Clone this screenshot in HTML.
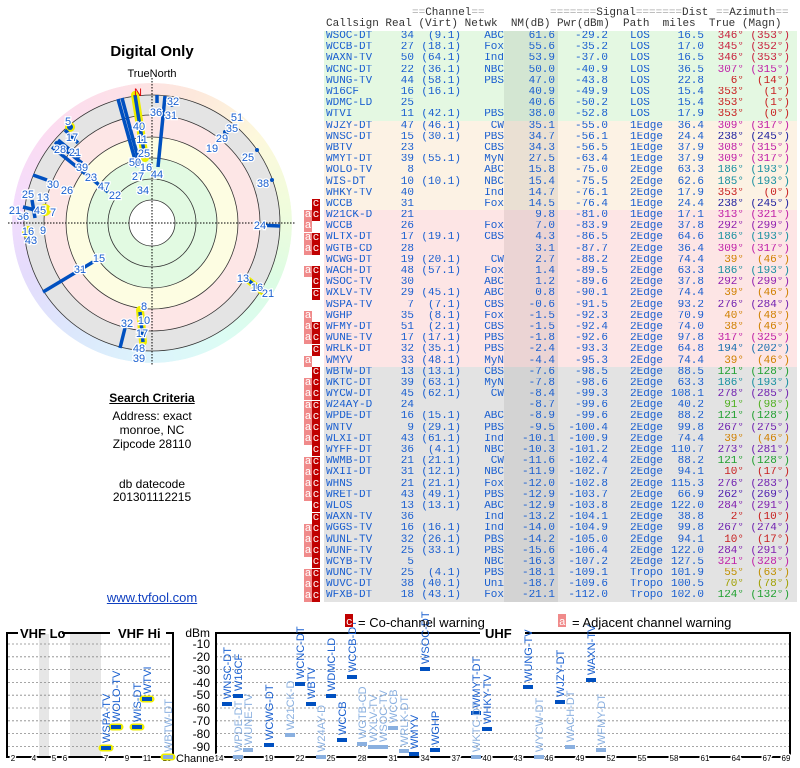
<!DOCTYPE html>
<html><head><meta charset="utf-8"><style>
body{margin:0;width:800px;height:768px;background:#fff;position:relative;overflow:hidden;font-family:"Liberation Sans",sans-serif}
.hd{position:absolute;font:11px "Liberation Mono",monospace;color:#333;white-space:pre;line-height:11px}
.hd i{font-style:normal;color:#aaa}
table{position:absolute;left:324px;top:31px;border-collapse:collapse;font:11px "Liberation Mono",monospace;color:#1a5fd0;table-layout:fixed;width:473px}
td{padding:0;height:11.2px;line-height:11px;white-space:nowrap;text-align:right;overflow:hidden;border-bottom:0 solid}
td:nth-child(1){text-align:left;padding-left:2px}
td:nth-child(5){background:rgba(0,0,0,.07);padding-right:3px}
td:nth-child(7){text-align:left;padding-left:22px}
td:nth-child(10){padding-right:7px}
tr.g{background:#e4f8e2}tr.y{background:#fcf2e4}tr.p{background:#fde5e5}tr.k{background:#e3e3e3}
.m{position:absolute;width:8px;height:11px;font:11px "Liberation Mono",monospace;color:#fff;text-align:center;line-height:10px}
.a{background:#f08a8a;left:304px}.c{background:#c00000;left:312px}
.t{position:absolute;left:0;width:304px;text-align:center;font-size:12px;color:#000}
</style></head><body>
<svg width="800" height="768" style="position:absolute;left:0;top:0">
<defs><clipPath id="cw"><circle cx="152" cy="223" r="140"/></clipPath></defs>
<foreignObject x="12" y="83" width="280" height="280" clip-path="url(#cw)"><div xmlns="http://www.w3.org/1999/xhtml" style="width:280px;height:280px;border-radius:50%;background:conic-gradient(from -15deg,#fde0e8,#fde8dc,#fdf8dc,#f0fcdc,#dcfce4,#dcfcf4,#dcf4fc,#dce8fc,#e4dcfc,#f4dcfc,#fcdcf0,#fde0e8)"></div></foreignObject>
<circle cx="152" cy="223" r="128" fill="#e4e4e4"/>
<circle cx="152" cy="223" r="108" fill="#fde6e6"/>
<circle cx="152" cy="223" r="86" fill="#fdfde2"/>
<circle cx="152" cy="223" r="65" fill="#e2fae2"/>
<circle cx="152" cy="223" r="23" fill="#fff"/>
<g fill="none" stroke="#333" stroke-width="0.8">
<circle cx="152" cy="223" r="23"/><circle cx="152" cy="223" r="44"/><circle cx="152" cy="223" r="65"/><circle cx="152" cy="223" r="86"/><circle cx="152" cy="223" r="108"/><circle cx="152" cy="223" r="128"/></g>
<g stroke="#000" stroke-dasharray="1.5,1.5" stroke-width="1"><line x1="8" y1="223" x2="296" y2="223"/><line x1="152" y1="78" x2="152" y2="366"/></g>
<g stroke-linecap="round">
<line x1="135" y1="95" x2="145" y2="158" stroke="#ee0" stroke-width="8"/>
<line x1="140" y1="310" x2="143" y2="342" stroke="#ee0" stroke-width="8"/>
<circle cx="70" cy="127" r="5" fill="#ee0"/><circle cx="45" cy="210" r="6" fill="#ee0"/><circle cx="28" cy="232" r="6" fill="#ee0"/><line x1="248" y1="280" x2="263" y2="292" stroke="#ee0" stroke-width="7"/>
</g>
<g stroke="#0050c0" stroke-width="3.5">
<line x1="135" y1="95" x2="145" y2="158"/><line x1="118" y1="99" x2="137" y2="167"/><line x1="122" y1="98" x2="140" y2="165"/>
<line x1="157" y1="95" x2="157" y2="103"/><line x1="165" y1="96" x2="158" y2="167"/>
<line x1="52" y1="147" x2="108" y2="192"/><line x1="55" y1="142" x2="82" y2="163"/><line x1="58" y1="140" x2="80" y2="158"/>
<line x1="65" y1="130" x2="78" y2="143"/><line x1="33" y1="175" x2="47" y2="180"/><line x1="23" y1="207" x2="35" y2="210"/>
<line x1="25" y1="240" x2="33" y2="239"/><line x1="43" y1="292" x2="93" y2="262"/><line x1="257" y1="225" x2="280" y2="226"/>
<line x1="248" y1="280" x2="263" y2="292"/><line x1="140" y1="312" x2="143" y2="342"/><line x1="125" y1="328" x2="120" y2="348"/>
<line x1="224" y1="135" x2="230" y2="130"/><line x1="32" y1="200" x2="35" y2="218"/>
</g>
<g fill="#0050c0"><circle cx="172" cy="105" r="2"/><circle cx="225" cy="132" r="2"/><circle cx="257" cy="150" r="2"/><circle cx="272" cy="180" r="2"/><circle cx="70" cy="127" r="3"/></g>
<g font-size="11" fill="#1a60d0" text-anchor="middle" stroke="#fff" stroke-width="2.5" paint-order="stroke">
<text x="173" y="105">32</text><text x="156" y="116">36</text><text x="171" y="119">31</text><text x="237" y="121">51</text><text x="232" y="132">35</text><text x="222" y="142">29</text><text x="212" y="152">19</text><text x="248" y="161">25</text><text x="263" y="187">38</text><text x="260" y="229">24</text><text x="243" y="282">13</text><text x="257" y="291">16</text><text x="268" y="297">21</text><text x="144" y="310">8</text><text x="144" y="324">10</text><text x="142" y="337">17</text><text x="139" y="352">48</text><text x="139" y="362">39</text><text x="127" y="327">32</text><text x="99" y="262">15</text><text x="80" y="273">31</text><text x="31" y="244">43</text><text x="28" y="235">16</text><text x="43" y="234">9</text><text x="23" y="220">36</text><text x="40" y="214">45</text><text x="53" y="216">7</text><text x="15" y="214">21</text><text x="28" y="198">25</text><text x="43" y="201">13</text><text x="53" y="188">30</text><text x="67" y="194">26</text><text x="115" y="199">22</text><text x="104" y="190">47</text><text x="91" y="181">23</text><text x="82" y="171">39</text><text x="60" y="153">28</text><text x="75" y="156">21</text><text x="72" y="141">17</text><text x="68" y="125">5</text><text x="139" y="130">40</text><text x="142" y="143">11</text><text x="144" y="157">25</text><text x="135" y="166">50</text><text x="146" y="171">16</text><text x="138" y="180">27</text><text x="157" y="178">44</text><text x="143" y="194">34</text>
</g>
<text x="138" y="96" font-size="11" fill="#d00" text-anchor="middle">N</text>
<text x="152" y="56" font-size="15" font-weight="bold" text-anchor="middle">Digital Only</text>
<text x="152" y="77" font-size="11" text-anchor="middle">TrueNorth</text>

<!-- bottom charts -->
<rect x="39" y="634" width="10" height="123" fill="#e6e6e6"/><rect x="70" y="634" width="31" height="123" fill="#e6e6e6"/>
<g stroke="#888" stroke-dasharray="2,2" stroke-width="0.8">
<path d="M8 644H172M8 656.8H172M8 669.6H172M8 682.4H172M8 695.2H172M8 708H172M8 720.8H172M8 733.6H172M8 746.4H172"/>
<path d="M216 644H789M216 656.8H789M216 669.6H789M216 682.4H789M216 695.2H789M216 708H789M216 720.8H789M216 733.6H789M216 746.4H789"/>
</g>
<g fill="none" stroke="#000" stroke-width="2">
<path d="M18 633H7V757H173V633H166M62 633H110"/>
<path d="M480 633H216V757H790V633H525"/>
</g>
<text x="20" y="638" font-size="13" font-weight="bold">VHF Lo</text><text x="118" y="638" font-size="13" font-weight="bold">VHF Hi</text>
<text x="485" y="638" font-size="13" font-weight="bold">UHF</text>
<g font-size="12" text-anchor="end"><text x="210" y="637">dBm</text><text x="210" y="648">-10</text><text x="210" y="661">-20</text><text x="210" y="674">-30</text><text x="210" y="687">-40</text><text x="210" y="699">-50</text><text x="210" y="712">-60</text><text x="210" y="725">-70</text><text x="210" y="738">-80</text><text x="210" y="751">-90</text></g>
<text x="176" y="762" font-size="11">Channel</text>
<g font-size="8" text-anchor="middle" fill="#000" stroke="#fff" stroke-width="3" paint-order="stroke">
<text x="13" y="761">2</text><text x="34" y="761">4</text><text x="54" y="761">5</text><text x="65" y="761">6</text><text x="106" y="761">7</text><text x="127" y="761">9</text><text x="147" y="761">11</text><text x="167" y="761">13</text>
<text x="219" y="761">14</text><text x="238" y="761">16</text><text x="269" y="761">19</text><text x="300" y="761">22</text><text x="331" y="761">25</text><text x="362" y="761">28</text><text x="393" y="761">31</text><text x="425" y="761">34</text><text x="456" y="761">37</text><text x="487" y="761">40</text><text x="518" y="761">43</text><text x="549" y="761">46</text><text x="580" y="761">49</text><text x="611" y="761">52</text><text x="642" y="761">55</text><text x="674" y="761">58</text><text x="705" y="761">61</text><text x="736" y="761">64</text><text x="767" y="761">67</text><text x="786" y="761">69</text>
</g>
<!-- VHF bars -->
<g stroke="#ee0" stroke-width="7" stroke-linecap="round"><path d="M102 748H110M112 727H120M133 727H141M143 699H151M164 757H172"/></g>
<g stroke="#0050c0" stroke-width="4"><path d="M101 748H111M111 727H121M132 727H142M142 699H152"/></g>
<path d="M163 757H173" stroke="#8ab0e0" stroke-width="4"/>
<g font-size="11" fill="#1a60d0">
<text transform="translate(110,743) rotate(-90)">WSPA-TV</text><text transform="translate(120,722) rotate(-90)">WOLO-TV</text><text transform="translate(141,722) rotate(-90)">WIS-DT</text><text transform="translate(151,694) rotate(-90)">WTVI</text>
<text transform="translate(172,752) rotate(-90)" fill="#8ab0e0">WBTW-DT</text>
</g>
<!-- UHF bars dark -->
<g stroke="#0050c0" stroke-width="4"><path d="M222 704H232M233 696H243M264 745H274M295 684H305M306 704H316M326 696H336M337 740H347M347 677H357M409 754H419M420 669H430M430 750H440M471 713H481M482 729H492M523 687H533M555 702H565M586 680H596"/></g>
<g stroke="#8ab0e0" stroke-width="4"><path d="M233 757H243M243 750H253M285 735H295M316 757H326M357 744H367M368 747H378M378 747H388M388 728H398M399 751H409M471 757H481M534 757H544M565 747H575M596 750H606"/></g>
<g font-size="11" fill="#1a60d0">
<text transform="translate(231,699) rotate(-90)">WNSC-DT</text><text transform="translate(242,691) rotate(-90)">W16CF</text><text transform="translate(273,740) rotate(-90)">WCWG-DT</text><text transform="translate(304,679) rotate(-90)">WCNC-DT</text><text transform="translate(315,699) rotate(-90)">WBTV</text><text transform="translate(335,691) rotate(-90)">WDMC-LD</text><text transform="translate(346,735) rotate(-90)">WCCB</text><text transform="translate(356,672) rotate(-90)">WCCB-DT</text><text transform="translate(418,749) rotate(-90)">WMYV</text><text transform="translate(429,664) rotate(-90)">WSOC-DT</text><text transform="translate(439,745) rotate(-90)">WGHP</text><text transform="translate(480,708) rotate(-90)">WMYT-DT</text><text transform="translate(491,724) rotate(-90)">WHKY-TV</text><text transform="translate(532,682) rotate(-90)">WUNG-TV</text><text transform="translate(564,697) rotate(-90)">WJZY-DT</text><text transform="translate(595,675) rotate(-90)">WAXN-TV</text>
</g>
<g font-size="11" fill="#8ab0e0">
<text transform="translate(242,752) rotate(-90)">WPDE-DT</text><text transform="translate(252,745) rotate(-90)">WUNE-TV</text><text transform="translate(294,730) rotate(-90)">W21CK-D</text><text transform="translate(325,752) rotate(-90)">W24AY-D</text><text transform="translate(366,739) rotate(-90)">WGTB-CD</text><text transform="translate(377,742) rotate(-90)">WXLV-TV</text><text transform="translate(387,742) rotate(-90)">WSOC-TV</text><text transform="translate(397,723) rotate(-90)">WCCB</text><text transform="translate(408,746) rotate(-90)">WRLK-DT</text><text transform="translate(480,752) rotate(-90)">WKTC-DT</text><text transform="translate(543,752) rotate(-90)">WYCW-DT</text><text transform="translate(574,742) rotate(-90)">WACH-DT</text><text transform="translate(605,745) rotate(-90)">WFMY-DT</text>
</g>
<rect x="345" y="614" width="8" height="13" fill="#c00000"/><text x="346" y="625" font-size="11" fill="#fff" font-family="Liberation Mono">c</text>
<text x="358" y="627" font-size="13">= Co-channel warning</text>
<rect x="558" y="614" width="8" height="13" fill="#f08a8a"/><text x="559" y="625" font-size="11" fill="#fff" font-family="Liberation Mono">a</text>
<text x="572" y="627" font-size="13">= Adjacent channel warning</text>
</svg>

<div class="hd" style="left:412px;top:8px"><i>==</i>Channel<i>==</i></div>
<div class="hd" style="left:550px;top:8px"><i>=======</i>Signal<i>=======</i></div>
<div class="hd" style="left:682px;top:8px">Dist</div>
<div class="hd" style="left:716px;top:8px"><i>==</i>Azimuth<i>==</i></div>
<div class="hd" style="left:326px;top:19px">Callsign Real (Virt) Netwk  NM(dB) Pwr(dBm)  Path  miles  True (Magn)</div>

<table>
<colgroup><col style="width:56px"><col style="width:34px"><col style="width:47px"><col style="width:43px"><col style="width:54px"><col style="width:50px"><col style="width:55px"><col style="width:41px"><col style="width:40px"><col style="width:53px"></colgroup>
<tr class="g"><td>WSOC-DT<td>34<td>(9.1)<td>ABC<td>61.6<td>-29.2<td>LOS<td>16.5<td style="color:#c81e3c">346°<td style="color:#c81e3c">(353°)</tr>
<tr class="g"><td>WCCB-DT<td>27<td>(18.1)<td>Fox<td>55.6<td>-35.2<td>LOS<td>17.0<td style="color:#c81e3c">345°<td style="color:#c81e3c">(352°)</tr>
<tr class="g"><td>WAXN-TV<td>50<td>(64.1)<td>Ind<td>53.9<td>-37.0<td>LOS<td>16.5<td style="color:#c81e3c">346°<td style="color:#c81e3c">(353°)</tr>
<tr class="g"><td>WCNC-DT<td>22<td>(36.1)<td>NBC<td>50.0<td>-40.9<td>LOS<td>36.5<td style="color:#c020a8">307°<td style="color:#c020a8">(315°)</tr>
<tr class="g"><td>WUNG-TV<td>44<td>(58.1)<td>PBS<td>47.0<td>-43.8<td>LOS<td>22.8<td style="color:#c82020">6°<td style="color:#c82020">(14°)</tr>
<tr class="g"><td>W16CF<td>16<td>(16.1)<td><td>40.9<td>-49.9<td>LOS<td>15.4<td style="color:#c82020">353°<td style="color:#c82020">(1°)</tr>
<tr class="g"><td>WDMC-LD<td>25<td><td><td>40.6<td>-50.2<td>LOS<td>15.4<td style="color:#c82020">353°<td style="color:#c82020">(1°)</tr>
<tr class="g"><td>WTVI<td>11<td>(42.1)<td>PBS<td>38.0<td>-52.8<td>LOS<td>17.9<td style="color:#c82020">353°<td style="color:#c82020">(0°)</tr>
<tr class="y"><td>WJZY-DT<td>47<td>(46.1)<td>CW<td>35.1<td>-55.0<td>1Edge<td>36.4<td style="color:#c020a8">309°<td style="color:#c020a8">(317°)</tr>
<tr class="y"><td>WNSC-DT<td>15<td>(30.1)<td>PBS<td>34.7<td>-56.1<td>1Edge<td>24.4<td style="color:#2020a0">238°<td style="color:#2020a0">(245°)</tr>
<tr class="y"><td>WBTV<td>23<td><td>CBS<td>34.3<td>-56.5<td>1Edge<td>37.9<td style="color:#c020a8">308°<td style="color:#c020a8">(315°)</tr>
<tr class="y"><td>WMYT-DT<td>39<td>(55.1)<td>MyN<td>27.5<td>-63.4<td>1Edge<td>37.9<td style="color:#c020a8">309°<td style="color:#c020a8">(317°)</tr>
<tr class="y"><td>WOLO-TV<td>8<td><td>ABC<td>15.8<td>-75.0<td>2Edge<td>63.3<td style="color:#1890a0">186°<td style="color:#1890a0">(193°)</tr>
<tr class="y"><td>WIS-DT<td>10<td>(10.1)<td>NBC<td>15.4<td>-75.5<td>2Edge<td>62.6<td style="color:#1890a0">185°<td style="color:#1890a0">(193°)</tr>
<tr class="y"><td>WHKY-TV<td>40<td><td>Ind<td>14.7<td>-76.1<td>2Edge<td>17.9<td style="color:#c82020">353°<td style="color:#c82020">(0°)</tr>
<tr class="y"><td>WCCB<td>31<td><td>Fox<td>14.5<td>-76.4<td>1Edge<td>24.4<td style="color:#2020a0">238°<td style="color:#2020a0">(245°)</tr>
<tr class="p"><td>W21CK-D<td>21<td><td><td>9.8<td>-81.0<td>1Edge<td>17.1<td style="color:#c020a8">313°<td style="color:#c020a8">(321°)</tr>
<tr class="p"><td>WCCB<td>26<td><td>Fox<td>7.0<td>-83.9<td>2Edge<td>37.8<td style="color:#9020b0">292°<td style="color:#9020b0">(299°)</tr>
<tr class="p"><td>WLTX-DT<td>17<td>(19.1)<td>CBS<td>4.3<td>-86.5<td>2Edge<td>64.6<td style="color:#1890a0">186°<td style="color:#1890a0">(193°)</tr>
<tr class="p"><td>WGTB-CD<td>28<td><td><td>3.1<td>-87.7<td>2Edge<td>36.4<td style="color:#c020a8">309°<td style="color:#c020a8">(317°)</tr>
<tr class="p"><td>WCWG-DT<td>19<td>(20.1)<td>CW<td>2.7<td>-88.2<td>2Edge<td>74.4<td style="color:#d08000">39°<td style="color:#d08000">(46°)</tr>
<tr class="p"><td>WACH-DT<td>48<td>(57.1)<td>Fox<td>1.4<td>-89.5<td>2Edge<td>63.3<td style="color:#1890a0">186°<td style="color:#1890a0">(193°)</tr>
<tr class="p"><td>WSOC-TV<td>30<td><td>ABC<td>1.2<td>-89.6<td>2Edge<td>37.8<td style="color:#9020b0">292°<td style="color:#9020b0">(299°)</tr>
<tr class="p"><td>WXLV-TV<td>29<td>(45.1)<td>ABC<td>0.8<td>-90.1<td>2Edge<td>74.4<td style="color:#d08000">39°<td style="color:#d08000">(46°)</tr>
<tr class="p"><td>WSPA-TV<td>7<td>(7.1)<td>CBS<td>-0.6<td>-91.5<td>2Edge<td>93.2<td style="color:#7020b0">276°<td style="color:#7020b0">(284°)</tr>
<tr class="p"><td>WGHP<td>35<td>(8.1)<td>Fox<td>-1.5<td>-92.3<td>2Edge<td>70.9<td style="color:#d08000">40°<td style="color:#d08000">(48°)</tr>
<tr class="p"><td>WFMY-DT<td>51<td>(2.1)<td>CBS<td>-1.5<td>-92.4<td>2Edge<td>74.0<td style="color:#d08000">38°<td style="color:#d08000">(46°)</tr>
<tr class="p"><td>WUNE-TV<td>17<td>(17.1)<td>PBS<td>-1.8<td>-92.6<td>2Edge<td>97.8<td style="color:#c020a8">317°<td style="color:#c020a8">(325°)</tr>
<tr class="p"><td>WRLK-DT<td>32<td>(35.1)<td>PBS<td>-2.4<td>-93.3<td>2Edge<td>64.8<td style="color:#1870b0">194°<td style="color:#1870b0">(202°)</tr>
<tr class="p"><td>WMYV<td>33<td>(48.1)<td>MyN<td>-4.4<td>-95.3<td>2Edge<td>74.4<td style="color:#d08000">39°<td style="color:#d08000">(46°)</tr>
<tr class="k"><td>WBTW-DT<td>13<td>(13.1)<td>CBS<td>-7.6<td>-98.5<td>2Edge<td>88.5<td style="color:#20a030">121°<td style="color:#20a030">(128°)</tr>
<tr class="k"><td>WKTC-DT<td>39<td>(63.1)<td>MyN<td>-7.8<td>-98.6<td>2Edge<td>63.3<td style="color:#1890a0">186°<td style="color:#1890a0">(193°)</tr>
<tr class="k"><td>WYCW-DT<td>45<td>(62.1)<td>CW<td>-8.4<td>-99.3<td>2Edge<td>108.1<td style="color:#7020b0">278°<td style="color:#7020b0">(285°)</tr>
<tr class="k"><td>W24AY-D<td>24<td><td><td>-8.7<td>-99.6<td>2Edge<td>40.2<td style="color:#50b020">91°<td style="color:#50b020">(98°)</tr>
<tr class="k"><td>WPDE-DT<td>16<td>(15.1)<td>ABC<td>-8.9<td>-99.6<td>2Edge<td>88.2<td style="color:#20a030">121°<td style="color:#20a030">(128°)</tr>
<tr class="k"><td>WNTV<td>9<td>(29.1)<td>PBS<td>-9.5<td>-100.4<td>2Edge<td>99.8<td style="color:#7020b0">267°<td style="color:#7020b0">(275°)</tr>
<tr class="k"><td>WLXI-DT<td>43<td>(61.1)<td>Ind<td>-10.1<td>-100.9<td>2Edge<td>74.4<td style="color:#d08000">39°<td style="color:#d08000">(46°)</tr>
<tr class="k"><td>WYFF-DT<td>36<td>(4.1)<td>NBC<td>-10.3<td>-101.2<td>2Edge<td>110.7<td style="color:#7020b0">273°<td style="color:#7020b0">(281°)</tr>
<tr class="k"><td>WWMB-DT<td>21<td>(21.1)<td>CW<td>-11.6<td>-102.4<td>2Edge<td>88.2<td style="color:#20a030">121°<td style="color:#20a030">(128°)</tr>
<tr class="k"><td>WXII-DT<td>31<td>(12.1)<td>NBC<td>-11.9<td>-102.7<td>2Edge<td>94.1<td style="color:#c82020">10°<td style="color:#c82020">(17°)</tr>
<tr class="k"><td>WHNS<td>21<td>(21.1)<td>Fox<td>-12.0<td>-102.8<td>2Edge<td>115.3<td style="color:#7020b0">276°<td style="color:#7020b0">(283°)</tr>
<tr class="k"><td>WRET-DT<td>43<td>(49.1)<td>PBS<td>-12.9<td>-103.7<td>2Edge<td>66.9<td style="color:#5020b0">262°<td style="color:#5020b0">(269°)</tr>
<tr class="k"><td>WLOS<td>13<td>(13.1)<td>ABC<td>-12.9<td>-103.8<td>2Edge<td>122.0<td style="color:#8020b0">284°<td style="color:#8020b0">(291°)</tr>
<tr class="k"><td>WAXN-TV<td>36<td><td>Ind<td>-13.2<td>-104.1<td>2Edge<td>38.8<td style="color:#c82020">2°<td style="color:#c82020">(10°)</tr>
<tr class="k"><td>WGGS-TV<td>16<td>(16.1)<td>Ind<td>-14.0<td>-104.9<td>2Edge<td>99.8<td style="color:#7020b0">267°<td style="color:#7020b0">(274°)</tr>
<tr class="k"><td>WUNL-TV<td>32<td>(26.1)<td>PBS<td>-14.2<td>-105.0<td>2Edge<td>94.1<td style="color:#c82020">10°<td style="color:#c82020">(17°)</tr>
<tr class="k"><td>WUNF-TV<td>25<td>(33.1)<td>PBS<td>-15.6<td>-106.4<td>2Edge<td>122.0<td style="color:#8020b0">284°<td style="color:#8020b0">(291°)</tr>
<tr class="k"><td>WCYB-TV<td>5<td><td>NBC<td>-16.3<td>-107.2<td>2Edge<td>127.5<td style="color:#c020a8">321°<td style="color:#c020a8">(328°)</tr>
<tr class="k"><td>WUNC-TV<td>25<td>(4.1)<td>PBS<td>-18.1<td>-109.1<td>Tropo<td>101.9<td style="color:#c09000">55°<td style="color:#c09000">(63°)</tr>
<tr class="k"><td>WUVC-DT<td>38<td>(40.1)<td>Uni<td>-18.7<td>-109.6<td>Tropo<td>100.5<td style="color:#a0a000">70°<td style="color:#a0a000">(78°)</tr>
<tr class="k"><td>WFXB-DT<td>18<td>(43.1)<td>Fox<td>-21.1<td>-112.0<td>Tropo<td>102.0<td style="color:#20a030">124°<td style="color:#20a030">(132°)</tr>
</table>

<div class="m c" style="top:199px">c</div>
<div class="m a" style="top:210px">a</div><div class="m c" style="top:210px">c</div>
<div class="m a" style="top:221px">a</div>
<div class="m a" style="top:233px">a</div><div class="m c" style="top:233px">c</div>
<div class="m a" style="top:244px">a</div><div class="m c" style="top:244px">c</div>
<div class="m a" style="top:266px">a</div><div class="m c" style="top:266px">c</div>
<div class="m c" style="top:277px">c</div>
<div class="m c" style="top:289px">c</div>
<div class="m a" style="top:311px">a</div>
<div class="m a" style="top:322px">a</div><div class="m c" style="top:322px">c</div>
<div class="m a" style="top:333px">a</div><div class="m c" style="top:333px">c</div>
<div class="m c" style="top:345px">c</div>
<div class="m a" style="top:356px">a</div>
<div class="m c" style="top:367px">c</div>
<div class="m a" style="top:378px">a</div><div class="m c" style="top:378px">c</div>
<div class="m a" style="top:389px">a</div><div class="m c" style="top:389px">c</div>
<div class="m a" style="top:401px">a</div><div class="m c" style="top:401px">c</div>
<div class="m a" style="top:412px">a</div><div class="m c" style="top:412px">c</div>
<div class="m a" style="top:423px">a</div><div class="m c" style="top:423px">c</div>
<div class="m a" style="top:434px">a</div><div class="m c" style="top:434px">c</div>
<div class="m c" style="top:445px">c</div>
<div class="m a" style="top:457px">a</div><div class="m c" style="top:457px">c</div>
<div class="m a" style="top:468px">a</div><div class="m c" style="top:468px">c</div>
<div class="m a" style="top:479px">a</div><div class="m c" style="top:479px">c</div>
<div class="m a" style="top:490px">a</div><div class="m c" style="top:490px">c</div>
<div class="m c" style="top:501px">c</div>
<div class="m c" style="top:513px">c</div>
<div class="m a" style="top:524px">a</div><div class="m c" style="top:524px">c</div>
<div class="m a" style="top:535px">a</div><div class="m c" style="top:535px">c</div>
<div class="m a" style="top:546px">a</div><div class="m c" style="top:546px">c</div>
<div class="m c" style="top:557px">c</div>
<div class="m a" style="top:569px">a</div><div class="m c" style="top:569px">c</div>
<div class="m a" style="top:580px">a</div><div class="m c" style="top:580px">c</div>
<div class="m a" style="top:591px">a</div><div class="m c" style="top:591px">c</div>

<div class="t" style="top:391px;font-weight:bold;text-decoration:underline">Search Criteria</div>
<div class="t" style="top:409px">Address: exact</div>
<div class="t" style="top:423px">monroe, NC</div>
<div class="t" style="top:437px">Zipcode 28110</div>
<div class="t" style="top:477px">db datecode</div>
<div class="t" style="top:490px">201301112215</div>
<div class="t" style="top:590px;font-size:13px;color:#1040c0;text-decoration:underline">www.tvfool.com</div>
</body></html>
